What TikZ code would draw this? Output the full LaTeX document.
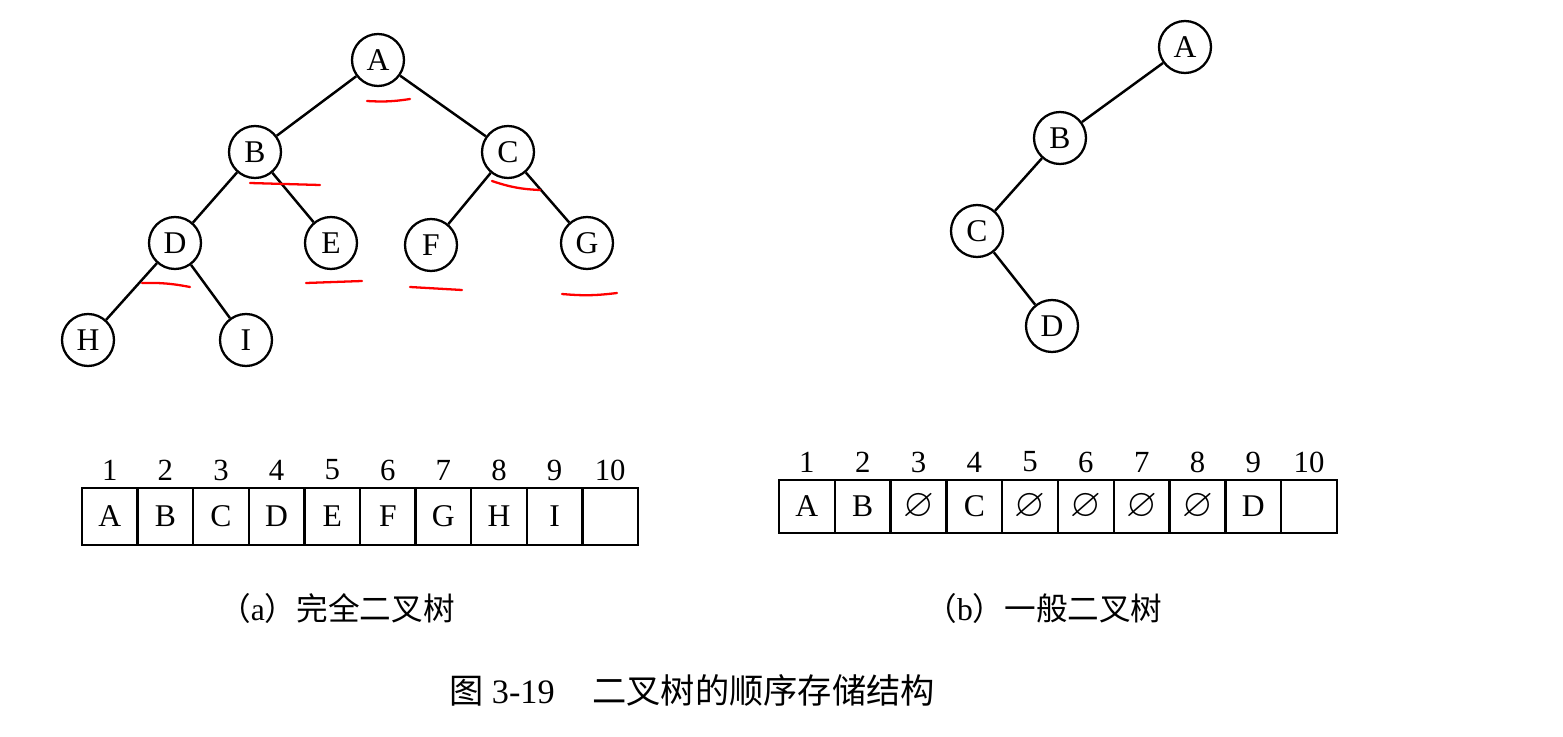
\documentclass[tikz,border=0pt]{standalone}
\usepackage{amssymb}
\usepackage{fontspec}
\setmainfont{Liberation Serif}
\newfontfamily\cjk{Noto Sans CJK SC}
\usetikzlibrary{calc}

\newcommand{\nul}{\scalebox{1.25}{$\varnothing$}}

\tikzset{
  tnode/.style={circle,draw,line width=1.3pt,minimum size=1.04cm,inner sep=0pt,
    font=\fontsize{18}{20}\selectfont},
  tedge/.style={line width=1.4pt},
  cellA/.style={draw,line width=1.3pt,minimum width=1.112cm,minimum height=1.14cm,
    inner sep=0pt,font=\fontsize{18}{20}\selectfont},
  cellB/.style={cellA,minimum width=1.116cm,minimum height=1.06cm},
  idx/.style={font=\fontsize{17.5}{20}\selectfont,inner sep=0pt},
  redmark/.style={red,line width=1.3pt,line cap=round},
  capt/.style={font=\fontsize{18}{21}\selectfont,inner sep=0pt}
}

\begin{document}
\begin{tikzpicture}[x=0.02cm,y=-0.02cm]
\useasboundingbox (0,0) rectangle (1563,737);

% (a) complete tree
\node[tnode] (A) at (378,60)  {A};
\node[tnode] (B) at (255,152) {B};
\node[tnode] (C) at (508,152) {C};
\node[tnode] (D) at (175,243) {D};
\node[tnode] (E) at (331,243) {E};
\node[tnode] (F) at (431,245) {F};
\node[tnode] (G) at (587,243) {G};
\node[tnode] (H) at (88,340)  {H};
\node[tnode] (I) at (246,340) {I};
\draw[tedge] (A) -- (B) (A) -- (C) (B) -- (D) (B) -- (E)
             (C) -- (F) (C) -- (G) (D) -- (H) (D) -- (I);

% hand marks
\draw[redmark] (367,101) to[bend right=6] (410,99);
\draw[redmark] (250,183) -- (320,185);
\draw[redmark] (492,181) to[bend right=8] (540,190);
\draw[redmark] (142,283) to[bend left=6] (190,287);
\draw[redmark] (306,283) -- (362,281);
\draw[redmark] (410,287) -- (462,290);
\draw[redmark] (562,294) to[bend right=6] (617,293);

% (b) general tree
\node[tnode] (rA) at (1185,47)  {A};
\node[tnode] (rB) at (1060,138) {B};
\node[tnode] (rC) at (977,231)  {C};
\node[tnode] (rD) at (1052,326) {D};
\draw[tedge] (rA) -- (rB) (rB) -- (rC) (rC) -- (rD);

% arrays
\foreach \v [count=\i] in {A,B,C,D,E,F,G,H,I,{}} {
  \node[cellA] (la\i) at ({82+55.6*(\i-0.5)},516.5) {\v};
  \node[idx] (na\i) at ({82+55.6*(\i-0.5)},470) {\i};
}
\foreach \v [count=\i] in {A,B,\nul,C,\nul,\nul,\nul,\nul,D,{}} {
  \node[cellB] (rb\i) at ({779+55.8*(\i-0.5)},506.5) {\v};
  \node[idx] (nb\i) at ({779+55.8*(\i-0.5)},462) {\i};
}

% captions
\node[capt] (capa) at (337,608) {{\cjk （}a{\cjk ）完全二叉树}};
\node[capt] (capb) at (1044,608) {{\cjk （}b{\cjk ）一般二叉树}};
\node[capt,font=\fontsize{19.5}{22}\selectfont] (capm) at (692,690)
  {{\cjk 图} 3-19\hspace{1.1em}{\cjk 二叉树的顺序存储结构}};
\end{tikzpicture}
\end{document}
